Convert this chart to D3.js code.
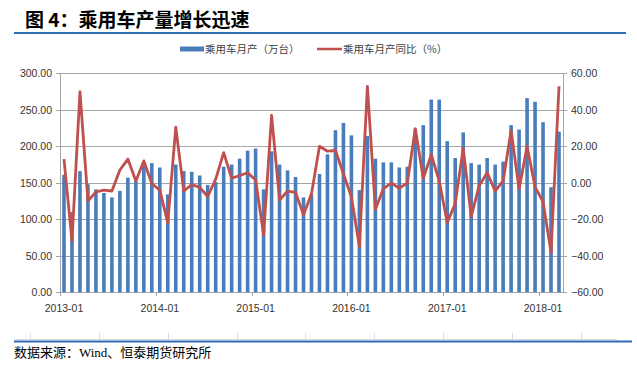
<!DOCTYPE html>
<html><head><meta charset="utf-8">
<script src="https://cdn.jsdelivr.net/npm/d3@7"></script>
<style>body{margin:0;background:#fff}svg{display:block}</style>
</head><body>
<svg id="c" width="637" height="366"></svg>
<script>
const months = [];
const years = [2013, 2014, 2015, 2016, 2017, 2018];
years.forEach(y => { for (let m = 1; m <= 12; m++) { if (y === 2018 && m > 3) break; months.push(y + "-" + String(m).padStart(2, "0")); } });

const production = [
  161, 110, 166, 148, 141, 136, 130, 139, 157, 152, 174, 177,
  171, 134, 175, 166, 165, 160, 147, 151, 172, 175, 183, 194,
  197, 141, 193, 175, 167, 158, 130, 134, 162, 189, 222, 232,
  215, 140, 214, 183, 178, 178, 171, 172, 224, 229, 264, 264,
  207, 184, 219, 177, 175, 184, 175, 179, 229, 223, 266, 261,
  233, 144, 220
];
const growth = [
  13, -32, 50, -10, -5, -4, -4.5, 7, 13, 1, 12, -0.5,
  -4, -22, 30.5, -4.5, -1, -2.5, -7.5, 2, 16.5, 2.5, 4, 5.5,
  1.5, -28.5, 37, -9.5, -4.5, -5.3, -17.5, -6, 20, 17.3, 17.7, 5,
  -7.8, -35, 52.8, -14.5, -3.3, 0, -3, 0, 29.6, 2.5, 15.4, 1,
  -21.8, -11.4, 19, -18.5, -1.6, 5.5, -4.5, 1, 28.7, -3.5, 20, -2.2,
  -10.4, -38.2, 52.9
];
const leftTicks = [0, 50, 100, 150, 200, 250, 300];
const rightTicks = [-60, -40, -20, 0, 20, 40, 60];
const xLabels = ["2013-01", "2014-01", "2015-01", "2016-01", "2017-01", "2018-01"];

const title = "图 4：乘用车产量增长迅速";
const legendBar = "乘用车月产（万台）";
const legendLine = "乘用车月产同比（%）";
const source = "数据来源：Wind、恒泰期货研究所";

const svg = d3.select("#c");
const L = 60, R = 563, T = 73.3, B = 292.3;
const sans = "'Liberation Sans', Arial, 'Noto Sans CJK SC', sans-serif";
const cjk = "'Noto Sans CJK SC', sans-serif";

const x = d3.scaleBand().domain(months).range([L, R]).paddingInner(0).paddingOuter(0);
const yL = d3.scaleLinear().domain([0, 300]).range([B, T]);
const yR = d3.scaleLinear().domain([-60, 60]).range([B, T]);

// Title
svg.append("text").attr("x", 25).attr("y", 27).text(title)
  .attr("font-family", cjk).attr("font-weight", "bold").attr("font-size", 19).attr("fill", "#000");
svg.append("line").attr("x1", 14).attr("x2", 626).attr("y1", 33).attr("y2", 33)
  .attr("stroke", "#2f6db4").attr("stroke-width", 2.2);

// Gridlines
svg.append("g").selectAll("line").data(leftTicks).join("line")
  .attr("x1", L - 4).attr("x2", R + 4).attr("y1", d => Math.round(yL(d)) + 0.5).attr("y2", d => Math.round(yL(d)) + 0.5)
  .attr("stroke", "#a6a6a6").attr("stroke-width", 1);

// axes lines
svg.append("line").attr("x1", L + 0.5).attr("x2", L + 0.5).attr("y1", T).attr("y2", B + 1).attr("stroke", "#a6a6a6");
svg.append("line").attr("x1", R + 0.5).attr("x2", R + 0.5).attr("y1", T).attr("y2", B + 1).attr("stroke", "#a6a6a6");

// Bottom axis using d3 axis
const xAxis = d3.axisBottom(x).tickValues(xLabels).tickSize(0).tickPadding(12);
const gx = svg.append("g").attr("transform", `translate(0,${B})`).call(xAxis);
gx.select(".domain").remove();
gx.selectAll("text").attr("font-family", sans).attr("font-size", 10.5).attr("fill", "#333");
// year boundary ticks
const bounds = months.map((m, i) => i).filter(i => i % 12 === 0 && i > 0).concat([0]);
svg.append("g").selectAll("line").data(bounds).join("line")
  .attr("x1", i => Math.round(x(months[i])) + 0.5).attr("x2", i => Math.round(x(months[i])) + 0.5)
  .attr("y1", B).attr("y2", B + 4).attr("stroke", "#a6a6a6");

// Left axis labels
const gl = svg.append("g").attr("transform", `translate(${L - 8},0)`)
  .call(d3.axisLeft(yL).tickValues(leftTicks).tickFormat(d3.format(".2f")).tickSize(0).tickPadding(0));
gl.select(".domain").remove();
gl.selectAll("text").attr("font-family", sans).attr("font-size", 10.5).attr("fill", "#333");

// Right axis labels
const gr = svg.append("g").attr("transform", `translate(${R + 8},0)`)
  .call(d3.axisRight(yR).tickValues(rightTicks).tickFormat(d3.format(".2f")).tickSize(0).tickPadding(0));
gr.select(".domain").remove();
gr.selectAll("text").attr("font-family", sans).attr("font-size", 10.5).attr("fill", "#333");

// Bars
const bw = 3.6;
svg.append("g").selectAll("rect").data(production).join("rect")
  .attr("x", (d, i) => x(months[i]) + x.bandwidth() / 2 - bw / 2)
  .attr("width", bw)
  .attr("y", d => yL(d))
  .attr("height", d => yL(0) - yL(d))
  .attr("fill", "#4a7ebb");

// Line
const line = d3.line().x((d, i) => x(months[i]) + x.bandwidth() / 2).y(d => yR(d));
svg.append("path").datum(growth).attr("d", line)
  .attr("fill", "none").attr("stroke", "#c0504d").attr("stroke-width", 2.8).attr("stroke-linejoin", "round");

// Legend
svg.append("rect").attr("x", 180).attr("y", 46.5).attr("width", 24).attr("height", 5).attr("fill", "#4a7ebb");
svg.append("text").attr("x", 205).attr("y", 53).text(legendBar)
  .attr("font-family", cjk).attr("font-size", 10.5).attr("fill", "#404040");
svg.append("line").attr("x1", 317).attr("x2", 342).attr("y1", 49).attr("y2", 49)
  .attr("stroke", "#c0504d").attr("stroke-width", 2.5);
svg.append("text").attr("x", 343).attr("y", 53).text(legendLine)
  .attr("font-family", cjk).attr("font-size", 10.5).attr("fill", "#404040");

// Bottom border lines
svg.append("line").attr("x1", 14).attr("x2", 617).attr("y1", 339.5).attr("y2", 339.5).attr("stroke", "#d8dce6");
const faint = [30, 99, 168, 237, 305, 374, 443, 512, 581];
svg.append("g").selectAll("line").data(faint).join("line")
  .attr("x1", d => d + 0.5).attr("x2", d => d + 0.5).attr("y1", 333).attr("y2", 340).attr("stroke", "#d8dce6");
svg.append("line").attr("x1", 14).attr("x2", 632).attr("y1", 341.5).attr("y2", 341.5)
  .attr("stroke", "#2f6db4").attr("stroke-width", 2.2);

// Source
svg.append("text").attr("x", 14).attr("y", 357).text(source)
  .attr("font-family", "'Liberation Serif', 'Noto Sans CJK SC', serif").attr("font-size", 13).attr("fill", "#000");
</script>
</body></html>
